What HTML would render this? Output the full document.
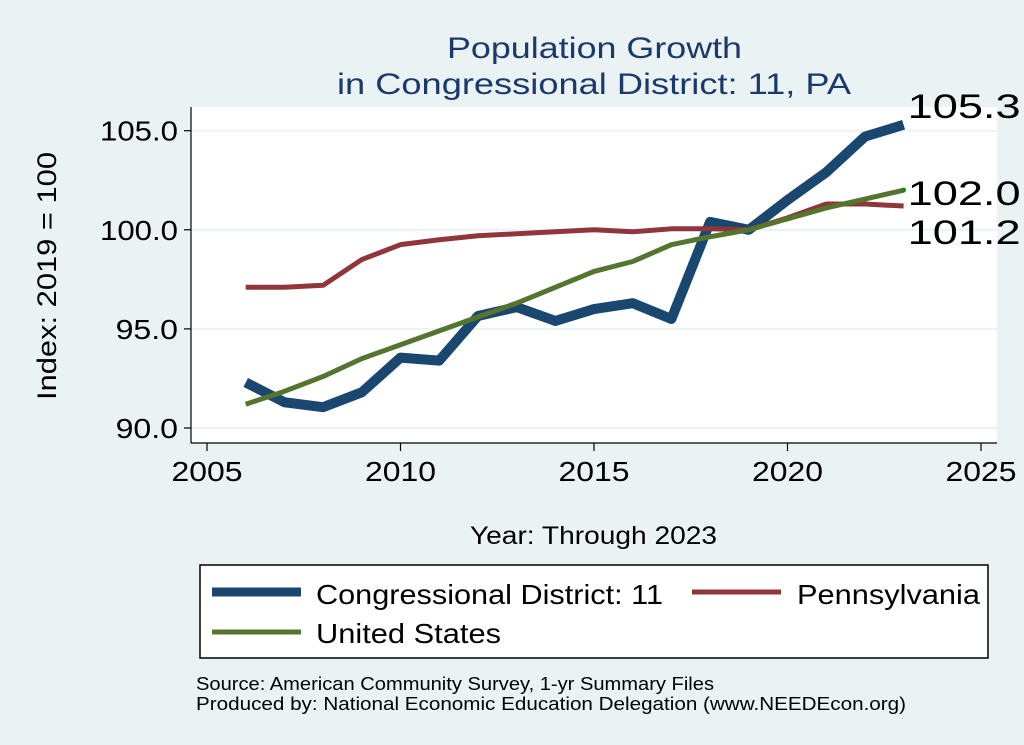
<!DOCTYPE html>
<html><head><meta charset="utf-8"><style>
body{margin:0;background:#eaf2f3;}
svg{display:block;font-family:"Liberation Sans",sans-serif;}
</style></head><body>
<svg id="chart" width="1024" height="745" viewBox="0 0 1024 745">
<rect width="1024" height="745" fill="#eaf2f3"/>
<text x="447" y="58" font-size="30" fill="#1a3a6b" textLength="295" lengthAdjust="spacingAndGlyphs">Population Growth</text>
<text x="337" y="94" font-size="30" fill="#1a3a6b" textLength="514" lengthAdjust="spacingAndGlyphs">in Congressional District: 11, PA</text>
<rect x="191" y="107" width="806" height="336" fill="#fff"/>
<g id="grid"></g>
<g id="axes"></g>
<g id="series"></g>
<text x="56" y="400" font-size="27" textLength="248" lengthAdjust="spacingAndGlyphs" transform="rotate(-90 56 400)">Index: 2019 = 100</text>
<text x="470" y="544" font-size="25" textLength="247" lengthAdjust="spacingAndGlyphs">Year: Through 2023</text>
<g>
<rect x="200" y="565" width="788" height="93" fill="#fff" stroke="#000" stroke-width="1.5"/>
<line x1="212" y1="592" x2="301" y2="592" stroke="#1a476f" stroke-width="9"/>
<text x="316" y="604" font-size="28" textLength="347" lengthAdjust="spacingAndGlyphs">Congressional District: 11</text>
<line x1="692" y1="592" x2="781" y2="592" stroke="#90353b" stroke-width="5"/>
<text x="797" y="604" font-size="28" textLength="183" lengthAdjust="spacingAndGlyphs">Pennsylvania</text>
<line x1="212" y1="632" x2="301" y2="632" stroke="#55752f" stroke-width="5"/>
<text x="316" y="643" font-size="28" textLength="185" lengthAdjust="spacingAndGlyphs">United States</text>
</g>
<text x="196" y="690" font-size="18" textLength="518" lengthAdjust="spacingAndGlyphs">Source: American Community Survey, 1-yr Summary Files</text>
<text x="196" y="710" font-size="18" textLength="710" lengthAdjust="spacingAndGlyphs">Produced by: National Economic Education Delegation (www.NEEDEcon.org)</text>
</svg>
<script>
const years=[2006,2007,2008,2009,2010,2011,2012,2013,2014,2015,2016,2017,2018,2019,2020,2021,2022,2023];
const district=[92.3,91.3,91.05,91.8,93.55,93.4,95.65,96.1,95.4,96.0,96.3,95.5,100.4,100.0,101.5,102.9,104.7,105.3];
const pennsylvania=[97.1,97.1,97.2,98.5,99.25,99.5,99.7,99.8,99.9,100.0,99.9,100.05,100.05,100.0,100.6,101.3,101.3,101.2];
const unitedStates=[91.2,91.85,92.6,93.5,94.2,94.9,95.6,96.3,97.1,97.9,98.4,99.25,99.65,100.0,100.55,101.1,101.55,102.0];
const xTicks=[2005,2010,2015,2020,2025];
const yTicks=[90,95,100,105];
const yTickLabels=["90.0","95.0","100.0","105.0"];
const endLabels=["105.3","102.0","101.2"];

const NS="http://www.w3.org/2000/svg";
const xs=v=>207+(v-2005)*(981-207)/20;
const ys=v=>130.7+(105-v)*(428-130.7)/15;
function mk(tag,attrs,parent){const e=document.createElementNS(NS,tag);for(const k in attrs)e.setAttribute(k,attrs[k]);parent.appendChild(e);return e;}
const grid=document.getElementById('grid'),axes=document.getElementById('axes'),series=document.getElementById('series');
yTicks.forEach((t,i)=>{
 const g=mk('line',{x1:191,x2:997,y1:ys(t),y2:ys(t),stroke:'#eaf2f3','stroke-width':2},grid);
 
 
 const tk=mk('line',{x1:184,x2:191,y1:ys(t),y2:ys(t),stroke:'#000','stroke-width':1.2},axes);
 
 
 const lbl=yTickLabels[i];
 const tx=mk('text',{x:178,y:ys(t)+10,'font-size':28,'text-anchor':'end',textLength:lbl.length*15.6,lengthAdjust:'spacingAndGlyphs'},axes);
 tx.textContent=lbl;
 
 
});
const ya=mk('line',{x1:191,x2:191,y1:107,y2:443,stroke:'#000','stroke-width':1.2},axes);


const xa=mk('line',{x1:191,x2:997,y1:443,y2:443,stroke:'#000','stroke-width':1.2},axes);


xTicks.forEach(t=>{
 const tk=mk('line',{x1:xs(t),x2:xs(t),y1:443,y2:451,stroke:'#000','stroke-width':1.2},axes);
 
 
 const tx=mk('text',{x:xs(t),y:481,'font-size':28,'text-anchor':'middle',textLength:71,lengthAdjust:'spacingAndGlyphs'},axes);
 tx.textContent=t;
 
 
});
function line(data,color,w,name){
 const p=mk('polyline',{points:data.map((v,i)=>xs(years[i])+','+ys(v)).join(' '),fill:'none',stroke:color,'stroke-width':w,'stroke-linejoin':'round'},series);
 
 
}
line(district,'#1a476f',10,'line-district');
line(pennsylvania,'#90353b',5,'line-pennsylvania');
line(unitedStates,'#55752f',5,'line-us');
const lx=xs(years[years.length-1]);
const dot=mk('circle',{cx:lx,cy:ys(unitedStates[unitedStates.length-1]),r:2.5,fill:'#1a8a1a'},series);


[[district,0,-7],[unitedStates,1,15],[pennsylvania,2,38]].forEach(([d,i,off])=>{
 const t=mk('text',{x:lx+4,y:ys(d[d.length-1])+off,'font-size':34,textLength:113,lengthAdjust:'spacingAndGlyphs'},series);
 t.textContent=endLabels[i];
 
 
});
</script>
</body></html>
